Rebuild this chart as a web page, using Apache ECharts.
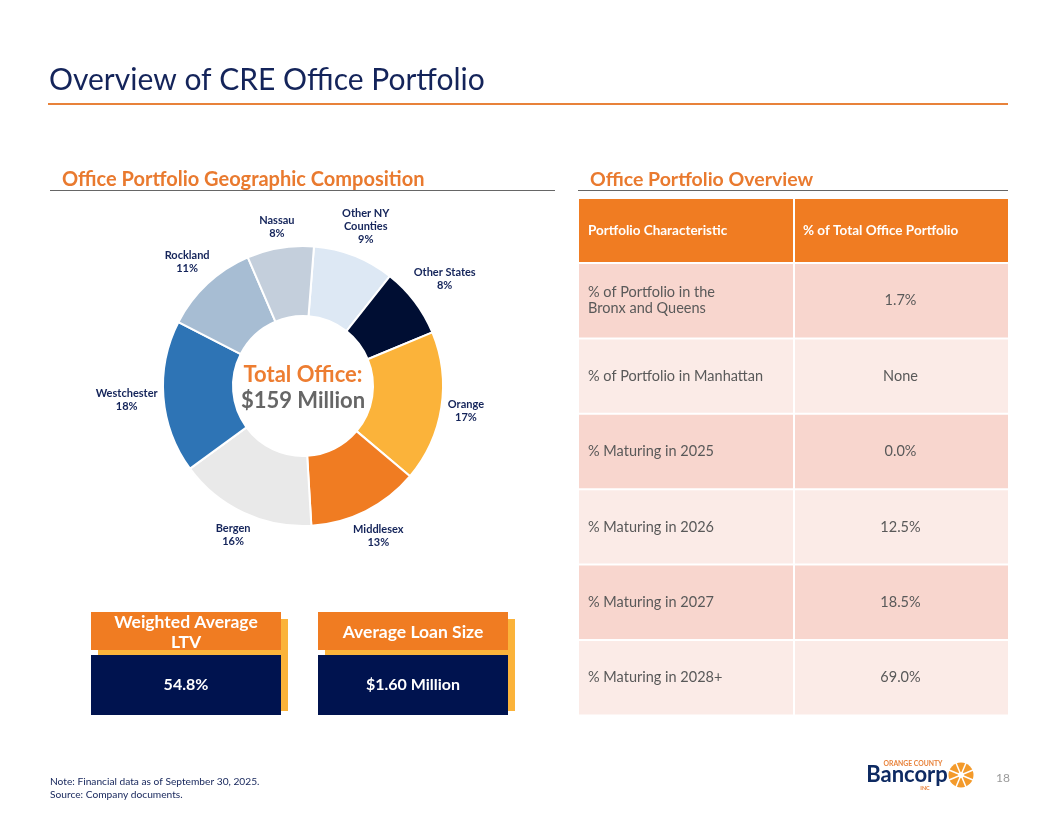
<!DOCTYPE html>
<html>
<head>
<meta charset="utf-8">
<script src="https://cdn.jsdelivr.net/npm/echarts@6/dist/echarts.min.js"></script>
<style>
html,body{margin:0;padding:0;background:#fff;}
#chart{width:1056px;height:816px;}
</style>
</head>
<body>
<div id="chart"></div>
<script>
// ---- Data ----
const pieNames = ['Other NY\nCounties', 'Other States', 'Orange', 'Middlesex', 'Bergen', 'Westchester', 'Rockland', 'Nassau'];
const pieValues = [9.4, 8.1, 17.4, 12.9, 15.9, 17.6, 11.0, 7.7];
const pieColors = ['#DDE8F4', '#000E33', '#FBB33A', '#F07C22', '#E9E9E9', '#2E74B5', '#A7BDD3', '#C4CFDC'];
const tableHeader = ['Portfolio Characteristic', '% of Total Office Portfolio'];
const tableLabels = ['% of Portfolio in the\nBronx and Queens', '% of Portfolio in Manhattan', '% Maturing in 2025', '% Maturing in 2026', '% Maturing in 2027', '% Maturing in 2028+'];
const tableValues = ['1.7%', 'None', '0.0%', '12.5%', '18.5%', '69.0%'];
const kpiTitles = ['Weighted Average\nLTV', 'Average Loan Size'];
const kpiValues = ['54.8%', '$1.60 Million'];

// ---- Layout constants ----
const FONT = 'Lato';
const NAVY = '#14245A';
const ORANGE = '#F07C22';
const cx = 303, cy = 386, R = 140, r0 = 70;
const startDeg = 4.5; // clockwise from 12 o'clock
const total = pieValues.reduce((a, b) => a + b, 0);

const chart = echarts.init(document.getElementById('chart'), null, {renderer: 'canvas'});
const g = [];

// Title
g.push({type: 'text', x: 49, y: 80, style: {text: 'Overview of CRE Office Portfolio', fill: NAVY, font: '30px ' + FONT, verticalAlign: 'middle'}});
g.push({type: 'rect', shape: {x: 48, y: 103, width: 960, height: 2}, style: {fill: '#E8823A'}});

// Section headers
g.push({type: 'text', x: 62, y: 180, style: {text: 'Office Portfolio Geographic Composition', fill: '#E97A2F', font: 'bold 20px ' + FONT, verticalAlign: 'middle'}});
g.push({type: 'rect', shape: {x: 50, y: 190, width: 505, height: 1}, style: {fill: '#666'}});
g.push({type: 'text', x: 590, y: 180, style: {text: 'Office Portfolio Overview', fill: '#E97A2F', font: 'bold 19.5px ' + FONT, verticalAlign: 'middle'}});
g.push({type: 'rect', shape: {x: 578, y: 190, width: 430, height: 1}, style: {fill: '#666'}});

// Center text
g.push({type: 'text', z: 10, x: cx, y: 375, style: {text: 'Total Office:', fill: '#ED7D31', font: 'bold 22px ' + FONT, align: 'center', verticalAlign: 'middle'}});
g.push({type: 'text', z: 10, x: cx, y: 401, style: {text: '$159 Million', fill: '#666666', font: 'bold 22px ' + FONT, align: 'center', verticalAlign: 'middle'}});

// Table
const tx = 579, tw = 429, c1 = 214;
const headerY = 199, headerH = 63, rowH = 75.4;
g.push({type: 'rect', shape: {x: tx, y: headerY, width: tw, height: headerH}, style: {fill: ORANGE}});
g.push({type: 'text', x: tx + 9, y: headerY + headerH / 2, style: {text: tableHeader[0], fill: '#fff', font: 'bold 13.5px ' + FONT, verticalAlign: 'middle'}});
g.push({type: 'text', x: tx + c1 + 10, y: headerY + headerH / 2, style: {text: tableHeader[1], fill: '#fff', font: 'bold 13.5px ' + FONT, verticalAlign: 'middle'}});
tableLabels.forEach((lab, i) => {
  const y = headerY + headerH + 2 + i * rowH;
  g.push({type: 'rect', shape: {x: tx, y: y, width: tw, height: rowH - 2}, style: {fill: i % 2 === 0 ? '#F8D6CE' : '#FBEBE7'}});
  g.push({type: 'text', x: tx + 9, y: y + (rowH - 2) / 2, style: {text: lab, fill: '#595959', font: '14.5px ' + FONT, verticalAlign: 'middle', lineHeight: 16}});
  g.push({type: 'text', x: tx + c1 + (tw - c1) / 2, y: y + (rowH - 2) / 2, style: {text: tableValues[i], fill: '#595959', font: '14.5px ' + FONT, align: 'center', verticalAlign: 'middle'}});
});
g.push({type: 'rect', shape: {x: tx + c1, y: headerY, width: 2, height: headerH + 2 + rowH * tableLabels.length}, style: {fill: '#fff'}});

// KPI boxes
[91, 318].forEach((bx, i) => {
  g.push({type: 'rect', shape: {x: bx + 7, y: 619, width: 190, height: 92}, style: {fill: '#FBB33A'}});
  g.push({type: 'rect', shape: {x: bx, y: 612, width: 190, height: 38}, style: {fill: ORANGE}});
  g.push({type: 'rect', shape: {x: bx, y: 655, width: 190, height: 60}, style: {fill: '#00134F'}});
  g.push({type: 'text', x: bx + 95, y: 632, style: {text: kpiTitles[i], fill: '#fff', font: 'bold 17.5px ' + FONT, align: 'center', verticalAlign: 'middle', lineHeight: 20}});
  g.push({type: 'text', x: bx + 95, y: 685, style: {text: kpiValues[i], fill: '#fff', font: 'bold 16px ' + FONT, align: 'center', verticalAlign: 'middle'}});
});

// Footer
g.push({type: 'text', x: 50, y: 782, style: {text: 'Note: Financial data as of September 30, 2025.', fill: NAVY, font: '10.2px ' + FONT, verticalAlign: 'middle'}});
g.push({type: 'text', x: 50, y: 795, style: {text: 'Source: Company documents.', fill: NAVY, font: '10.2px ' + FONT, verticalAlign: 'middle'}});
g.push({type: 'text', x: 1003, y: 778, style: {text: '18', fill: '#999', font: '12px ' + FONT, align: 'center', verticalAlign: 'middle'}});

// Logo
g.push({type: 'text', x: 913, y: 764, style: {text: 'ORANGE COUNTY', fill: '#E8823A', font: 'bold 6.8px ' + FONT, align: 'center', verticalAlign: 'middle'}});
g.push({type: 'text', x: 907, y: 775, style: {text: 'Bancorp', fill: '#0E2A62', font: 'bold 22px ' + FONT, align: 'center', verticalAlign: 'middle'}});
g.push({type: 'text', x: 925, y: 788, style: {text: 'INC', fill: '#E8823A', font: 'bold 5.5px ' + FONT, align: 'center', verticalAlign: 'middle'}});
g.push({type: 'circle', shape: {cx: 961, cy: 775, r: 12.5}, style: {fill: '#F39A2B'}});
for (let k = 0; k < 8; k++) {
  const a = k * Math.PI / 4 + Math.PI / 8;
  g.push({type: 'line', shape: {x1: 961, y1: 775, x2: 961 + 13 * Math.cos(a), y2: 775 + 13 * Math.sin(a)}, style: {stroke: '#fff', lineWidth: 1.5}});
}
g.push({type: 'circle', shape: {cx: 961, cy: 775, r: 3}, style: {fill: '#fff'}});

const option = {
  animation: false,
  backgroundColor: '#ffffff',
  graphic: g,
  series: [{
    type: 'pie',
    center: [cx, cy],
    radius: [r0, R],
    startAngle: 90 - startDeg,
    clockwise: true,
    avoidLabelOverlap: false,
    itemStyle: {borderColor: '#fff', borderWidth: 2},
    label: {
      show: true,
      position: 'outside',
      formatter: p => p.name + '\n' + Math.round(p.value) + '%',
      color: NAVY,
      fontFamily: FONT,
      fontWeight: 'bold',
      fontSize: 11,
      lineHeight: 13,
      align: 'center'
    },
    labelLine: {show: false},
    labelLayout: function (p) {
      const i = p.dataIndex;
      let cum = 0;
      for (let j = 0; j < i; j++) cum += pieValues[j];
      const mid = startDeg + (cum + pieValues[i] / 2) / total * 360;
      const a = mid * Math.PI / 180;
      const ux = Math.sin(a), uy = -Math.cos(a);
      const w = p.labelRect.width / 2, h = p.labelRect.height / 2;
      const d = R + 5 + w * Math.abs(ux) + h * Math.abs(uy);
      return {x: cx + d * ux, y: cy + d * uy, align: 'center', verticalAlign: 'middle'};
    },
    data: pieNames.map((n, i) => ({name: n, value: pieValues[i], itemStyle: {color: pieColors[i]}}))
  }]
};
chart.setOption(option);
</script>
</body>
</html>
